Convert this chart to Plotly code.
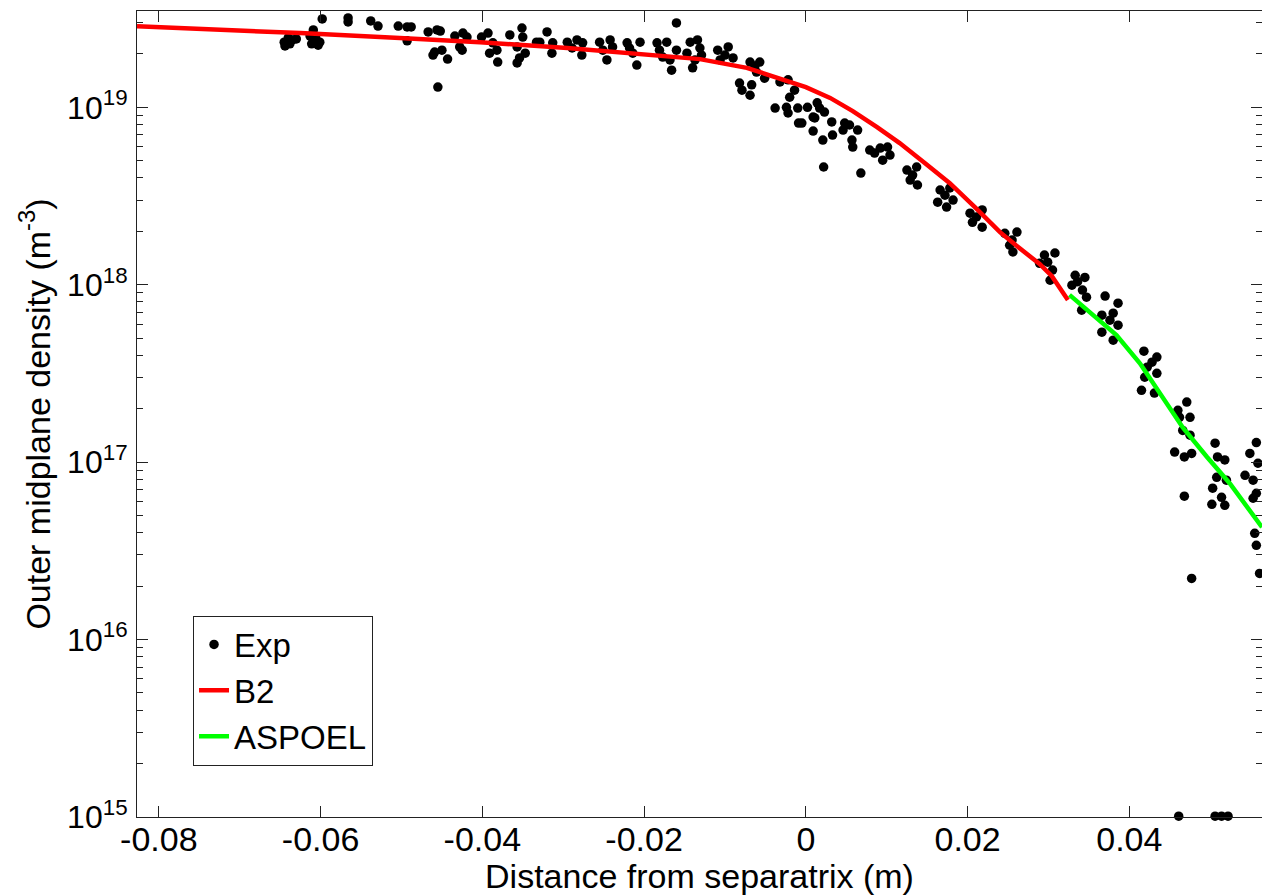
import plotly.graph_objects as go

# ---------------- data ----------------
exp_x = [
    -0.0645, -0.0640, -0.0635, -0.0630, -0.0644, -0.0638, -0.0613, -0.0609, -0.0606, -0.0603, -0.0611, -0.0601, -0.0598,
    -0.0566, -0.0566, -0.0538, -0.0529, -0.0504, -0.0493, -0.0488, -0.0493,
    -0.0467, -0.0456, -0.0452, -0.0459, -0.0450, -0.0461, -0.0443, -0.0455,
    -0.0434, -0.0424, -0.0419, -0.0428, -0.0425,
    -0.0401, -0.0393, -0.0387, -0.0391, -0.0381, -0.0382,
    -0.0366, -0.0351, -0.0350, -0.0357, -0.0354, -0.0357, -0.0347, -0.0333,
    -0.0320, -0.0329, -0.0313, -0.0314,
    -0.0295, -0.0283, -0.0276, -0.0277, -0.0289,
    -0.0255, -0.0242, -0.0239, -0.0246, -0.0251,
    -0.0221, -0.0205, -0.0214, -0.0209, -0.0218,
    -0.0184, -0.0172, -0.0177, -0.0166, -0.0160, -0.0160, -0.0181, -0.0168,
    -0.0143, -0.0134, -0.0147, -0.0129, -0.0140, -0.0137, -0.0131,
    -0.0109, -0.0096, -0.0090, -0.0106, -0.0100,
    -0.0082, -0.0079, -0.0067, -0.0069, -0.0069, -0.0057, -0.0051, -0.0061, -0.0063,
    -0.0038, -0.0024, -0.0022, -0.0032, -0.0022, -0.0014, -0.0020, -0.0010, -0.0009,
    0.0002, 0.0014, 0.0009, 0.0009, 0.0017, 0.0011, -0.0005, 0.0023, 0.0032, 0.0021, 0.0033,
    0.0054, 0.0064, 0.0046, 0.0057, 0.0058, 0.0048, 0.0022, 0.0068,
    0.0079, 0.0092, 0.0101, 0.0095, 0.0104, 0.0085,
    0.0125, 0.0137, 0.0129, 0.0138, 0.0132,
    0.0166, 0.0178, 0.0163, 0.0174, 0.0182, 0.0172,
    0.0203, 0.0218, 0.0206, 0.0218, 0.0211,
    0.0246, 0.0261, 0.0252, 0.0256, 0.0255,
    0.0295, 0.0308, 0.0289, 0.0305, 0.0302, 0.0299,
    0.0333, 0.0345, 0.0329, 0.0342, 0.0347, 0.0341, 0.0336,
    0.0370, 0.0386, 0.0366, 0.0380, 0.0386, 0.0366, 0.0380, 0.0376,
    0.0418, 0.0434, 0.0422, 0.0434, 0.0419, 0.0415, 0.0431, 0.0428,
    0.0471, 0.0460, 0.0475, 0.0466, 0.0475, 0.0456, 0.0468, 0.0477, 0.0462,
    0.0506, 0.0509, 0.0518, 0.0508, 0.0520, 0.0503, 0.0514, 0.0502, 0.0518, 0.0468,
    0.0557, 0.0549, 0.0559, 0.0543, 0.0553, 0.0557, 0.0553, 0.0555, 0.0557, 0.0561,
    0.0477,
    0.0461, 0.0506, 0.0514, 0.0522,
]
exp_y = [
    2.33e19, 2.46e19, 2.40e19, 2.43e19, 2.22e19, 2.28e19, 2.52e19, 2.73e19, 2.46e19, 2.24e19, 2.28e19, 2.33e19, 3.15e19,
    3.19e19, 3.03e19, 3.07e19, 2.87e19, 2.87e19, 2.84e19, 2.84e19, 2.37e19,
    2.66e19, 2.73e19, 2.69e19, 2.05e19, 2.10e19, 1.97e19, 1.87e19, 1.30e19,
    2.52e19, 2.62e19, 2.49e19, 2.19e19, 2.10e19,
    2.49e19, 2.62e19, 2.31e19, 2.02e19, 1.80e19, 2.10e19,
    2.56e19, 2.80e19, 2.49e19, 2.19e19, 1.90e19, 1.78e19, 2.02e19, 2.33e19,
    2.66e19, 2.33e19, 2.31e19, 2.02e19,
    2.33e19, 2.40e19, 2.31e19, 1.97e19, 2.16e19,
    2.33e19, 2.40e19, 2.19e19, 1.85e19, 2.10e19,
    2.31e19, 2.33e19, 2.02e19, 1.73e19, 2.16e19,
    2.31e19, 2.33e19, 1.92e19, 1.62e19, 2.10e19, 2.99e19, 2.10e19, 1.85e19,
    2.33e19, 2.40e19, 2.02e19, 1.97e19, 1.67e19, 1.85e19, 2.16e19,
    2.10e19, 2.19e19, 1.90e19, 1.85e19, 1.97e19,
    1.37e19, 1.25e19, 1.34e19, 1.17e19, 1.80e19, 1.80e19, 1.46e19, 1.58e19, 1.71e19,
    9.9e18, 1.0e19, 9.29e18, 1.39e19, 1.43e19, 1.25e19, 1.14e19, 9.9e18, 8.15e18,
    1.0e19, 1.06e19, 8.82e18, 7.35e18, 9.9e18, 8.71e18, 8.15e18, 9.41e18, 8.27e18, 6.54e18, 6.98e18,
    7.95e18, 7.45e18, 7.45e18, 6.54e18, 5.97e18, 8.15e18, 4.61e18, 4.26e18,
    5.74e18, 5.89e18, 5.97e18, 5.04e18, 5.38e18, 5.52e18,
    4.43e18, 4.61e18, 3.89e18, 3.65e18, 4.15e18,
    3.42e18, 3.51e18, 2.92e18, 2.74e18, 3.00e18, 3.20e18,
    2.53e18, 2.64e18, 2.25e18, 2.11e18, 2.41e18,
    1.95e18, 1.98e18, 1.67e18, 1.53e18, 1.785e18,
    1.47e18, 1.51e18, 1.32e18, 1.21e18, 1.06e18, 1.34e18,
    1.13e18, 1.10e18, 9.95e17, 9.33e17, 8.51e17, 7.19e17, 1.04e18,
    8.63e17, 7.87e17, 6.74e17, 6.91e17, 5.92e17, 5.40e17, 4.87e17, 6.31e17,
    4.22e17, 3.91e17, 3.43e17, 3.17e17, 3.01e17, 2.54e17, 2.45e17, 3.66e17,
    2.18e17, 1.96e17, 1.79e17, 1.51e17, 1.42e17, 1.14e17, 1.07e17, 1.12e17, 1.79e17,
    1.28e17, 1.07e17, 1.03e17, 8.22e16, 7.91e16, 7.13e16, 6.34e16, 5.79e16, 5.71e16, 6.43e16,
    1.29e17, 1.12e17, 9.86e16, 8.43e16, 7.91e16, 6.68e16, 6.26e16, 3.97e16, 3.40e16, 2.36e16,
    2.21e16,
    1.01e15, 1.01e15, 1.01e15, 1.01e15,
]

b2_x = [-0.0827, -0.0749, -0.0625, -0.0502, -0.0403, -0.0295, -0.0199, -0.0131, -0.0073, -0.0036,
        0.0000, 0.0030, 0.0058, 0.0088, 0.0116, 0.0147, 0.0178, 0.0209, 0.0240, 0.0264, 0.0289, 0.0304, 0.0324]
b2_y = [2.86e19, 2.77e19, 2.62e19, 2.46e19, 2.33e19, 2.16e19, 2.00e19, 1.87e19, 1.67e19, 1.46e19,
        1.30e19, 1.13e19, 9.53e18, 7.74e18, 6.29e18, 4.85e18, 3.74e18, 2.74e18, 1.98e18, 1.61e18, 1.31e18, 1.12e18, 8.2e17]

aspoel_x = [0.0326, 0.0355, 0.0384, 0.0413, 0.0438, 0.0466, 0.0496, 0.0524, 0.0564]
aspoel_y = [8.77e17, 6.75e17, 5.20e17, 3.61e17, 2.45e17, 1.57e17, 1.07e17, 7.61e16, 4.30e16]

x_tick_vals = [-0.08, -0.06, -0.04, -0.02, 0, 0.02, 0.04]
x_tick_text = ["-0.08", "-0.06", "-0.04", "-0.02", "0", "0.02", "0.04"]
y_exponents = [15, 16, 17, 18, 19]
y_tick_vals = [10.0 ** e for e in y_exponents]
y_tick_text = ["10<sup>%d</sup>" % e for e in y_exponents]
y_minor_vals = [m * 10.0 ** e for e in [15, 16, 17, 18, 19] for m in range(2, 10) if m * 10.0 ** e < 3.5e19]

FONT = "Arial, Liberation Sans, sans-serif"

fig = go.Figure()
fig.add_trace(go.Scatter(x=exp_x, y=exp_y, mode="markers", name="Exp",
                         marker=dict(color="black", size=9.5), cliponaxis=False))
fig.add_trace(go.Scatter(x=b2_x, y=b2_y, mode="lines", name="B2",
                         line=dict(color="#ff0000", width=4.5)))
fig.add_trace(go.Scatter(x=aspoel_x, y=aspoel_y, mode="lines", name="ASPOEL",
                         line=dict(color="#00ff00", width=4.5)))

fig.update_layout(
    width=1262, height=895,
    margin=dict(l=137, r=0, t=11, b=78),
    paper_bgcolor="white", plot_bgcolor="white",
    font=dict(family=FONT, color="black", size=33),
    showlegend=True,
    legend=dict(x=0.0498, y=0.250, xanchor="left", yanchor="top",
                bgcolor="white", bordercolor="#222", borderwidth=1,
                font=dict(size=33, family=FONT), tracegroupgap=0,
                itemwidth=30),
)

fig.update_xaxes(
    range=[-0.0827, 0.0564], showgrid=False, zeroline=False,
    showline=True, linecolor="#222", linewidth=1, mirror="ticks",
    ticks="inside", ticklen=11, tickcolor="#222",
    tickmode="array", tickvals=x_tick_vals, ticktext=x_tick_text,
    tickfont=dict(size=34), ticklabelstandoff=-8,
    title=dict(text="Distance from separatrix (m)", font=dict(size=34), standoff=4),
    automargin=False,
)
fig.update_yaxes(
    type="log", range=[15, 19.543], showgrid=False, zeroline=False,
    showline=True, linecolor="#222", linewidth=1, mirror="ticks",
    ticks="inside", ticklen=11, tickcolor="#222",
    tickmode="array", tickvals=y_tick_vals, ticktext=y_tick_text,
    tickfont=dict(size=32), ticklabelstandoff=2,
    minor=dict(tickmode="array", tickvals=y_minor_vals, ticks="inside", ticklen=6,
               tickcolor="#222", showgrid=False),
    title=dict(text="Outer midplane density (m<sup>-3</sup>)", font=dict(size=34), standoff=6),
    automargin=False,
)

fig.write_html(
    "out.html",
    config={"displayModeBar": False},
    post_script="document.body.style.margin='0';document.body.style.overflow='hidden';",
)
